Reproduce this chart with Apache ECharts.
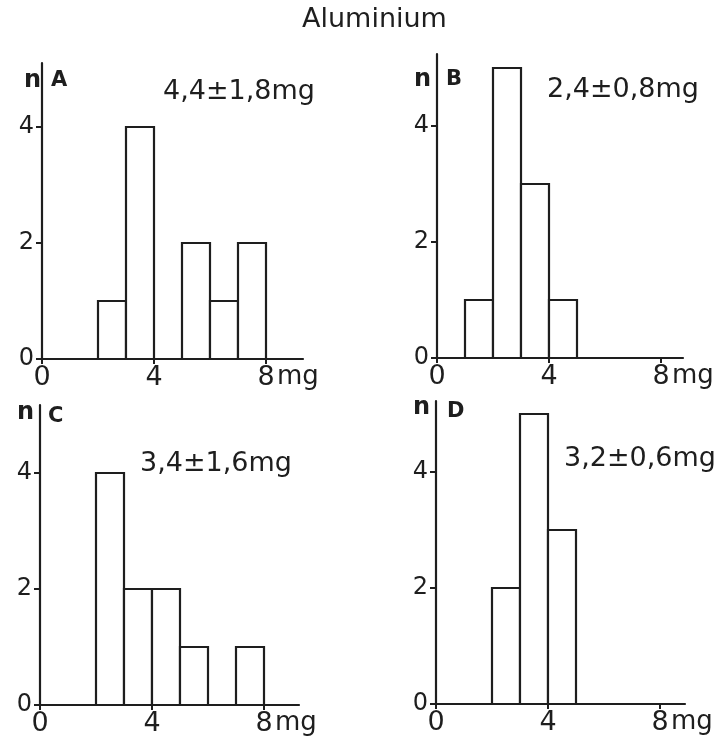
<!DOCTYPE html>
<html>
<head>
<meta charset="utf-8">
<script src="https://cdn.jsdelivr.net/npm/echarts@6/dist/echarts.min.js"></script>
<style>
  html, body { margin: 0; padding: 0; background: #fff; }
  #main { width: 728px; height: 744px; }
</style>
</head>
<body>
<div id="main"></div>
<script>
// histogram data, bin width 1 mg
const binsA = [2, 3, 5, 6, 7];
const countsA = [1, 4, 2, 1, 2];
const binsB = [1, 2, 3, 4];
const countsB = [1, 5, 3, 1];
const binsC = [2, 3, 4, 5, 7];
const countsC = [4, 2, 2, 1, 1];
const binsD = [2, 3, 4];
const countsD = [2, 5, 3];

const binWidth = 1;
const xTicks = [0, 4, 8];
const yTicks = [0, 2, 4];
const panelLetters = ['A', 'B', 'C', 'D'];
const panelStats = ['4,4±1,8mg', '2,4±0,8mg', '3,4±1,6mg', '3,2±0,6mg'];
const titleText = 'Aluminium';

const INK = '#1e1e1e';
const FONT = '"DejaVu Sans", sans-serif';
const PX_X = 28;  // px per mg
const PX_Y = 58;  // px per count

// grid boxes in px
const panels = [
  { left: 42, top: 63, width: 261, height: 296, bins: binsA, counts: countsA, stat: [163, 94], n: [24, 84], l: [51, 84] },
  { left: 437, top: 54, width: 246, height: 304, bins: binsB, counts: countsB, stat: [547, 92], n: [414, 83], l: [446, 83] },
  { left: 40, top: 405, width: 259, height: 300, bins: binsC, counts: countsC, stat: [140, 466], n: [17, 416], l: [48, 420] },
  { left: 436, top: 401, width: 249, height: 303, bins: binsD, counts: countsD, stat: [564, 461], n: [413, 411], l: [447, 415] }
];

function renderBin(params, api) {
  const lo = api.value(0), hi = api.value(1), n = api.value(2);
  const p0 = api.coord([lo, 0]);
  const p1 = api.coord([hi, n]);
  return {
    type: 'rect',
    shape: { x: p0[0], y: p1[1], width: p1[0] - p0[0], height: p0[1] - p1[1] },
    style: { fill: '#fff', stroke: INK, lineWidth: 2.2 }
  };
}

const grids = [], xAxes = [], yAxes = [], series = [], graphics = [];

panels.forEach((p, i) => {
  grids.push({ left: p.left, top: p.top, width: p.width, height: p.height });
  xAxes.push({
    type: 'value', gridIndex: i, min: 0, max: p.width / PX_X, interval: 4,
    splitLine: { show: false },
    axisLine: { onZero: false, lineStyle: { color: INK, width: 2.2 } },
    axisTick: { customValues: xTicks, length: 5, lineStyle: { color: INK, width: 2 } },
    axisLabel: { customValues: xTicks, color: INK, fontFamily: FONT, fontSize: 27, margin: 5 }
  });
  yAxes.push({
    type: 'value', gridIndex: i, min: 0, max: p.height / PX_Y, interval: 2,
    splitLine: { show: false },
    axisLine: { show: true, onZero: false, lineStyle: { color: INK, width: 2.2 } },
    axisTick: { show: true, customValues: yTicks, length: 6, lineStyle: { color: INK, width: 2 } },
    axisLabel: { customValues: yTicks, color: INK, fontFamily: FONT, fontSize: 24, margin: 8 }
  });
  series.push({
    type: 'custom', xAxisIndex: i, yAxisIndex: i,
    renderItem: renderBin,
    encode: { x: [0, 1], y: 2 },
    data: p.bins.map((b, k) => [b, b + binWidth, p.counts[k]]),
    silent: true
  });
  graphics.push(
    { type: 'text', left: p.n[0], top: p.n[1] - 15,
      style: { text: 'n', font: 'bold 24px ' + FONT, fill: INK } },
    { type: 'text', left: p.l[0], top: p.l[1] - 14,
      style: { text: panelLetters[i], font: 'bold 21px ' + FONT, fill: INK } },
    { type: 'text', left: p.stat[0], top: p.stat[1] - 16,
      style: { text: panelStats[i], font: '27px ' + FONT, fill: INK } },
    { type: 'text', left: p.left + 8 * PX_X + 11, top: p.top + p.height + 5,
      style: { text: 'mg', font: '26px ' + FONT, fill: INK } }
  );
});

graphics.push({
  type: 'text', left: 302, top: 6,
  style: { text: titleText, font: '27px ' + FONT, fill: INK }
});

const chart = echarts.init(document.getElementById('main'), null, { renderer: 'canvas' });
chart.setOption({
  backgroundColor: '#fff',
  animation: false,
  grid: grids,
  xAxis: xAxes,
  yAxis: yAxes,
  series: series,
  graphic: graphics
});
</script>
</body>
</html>
